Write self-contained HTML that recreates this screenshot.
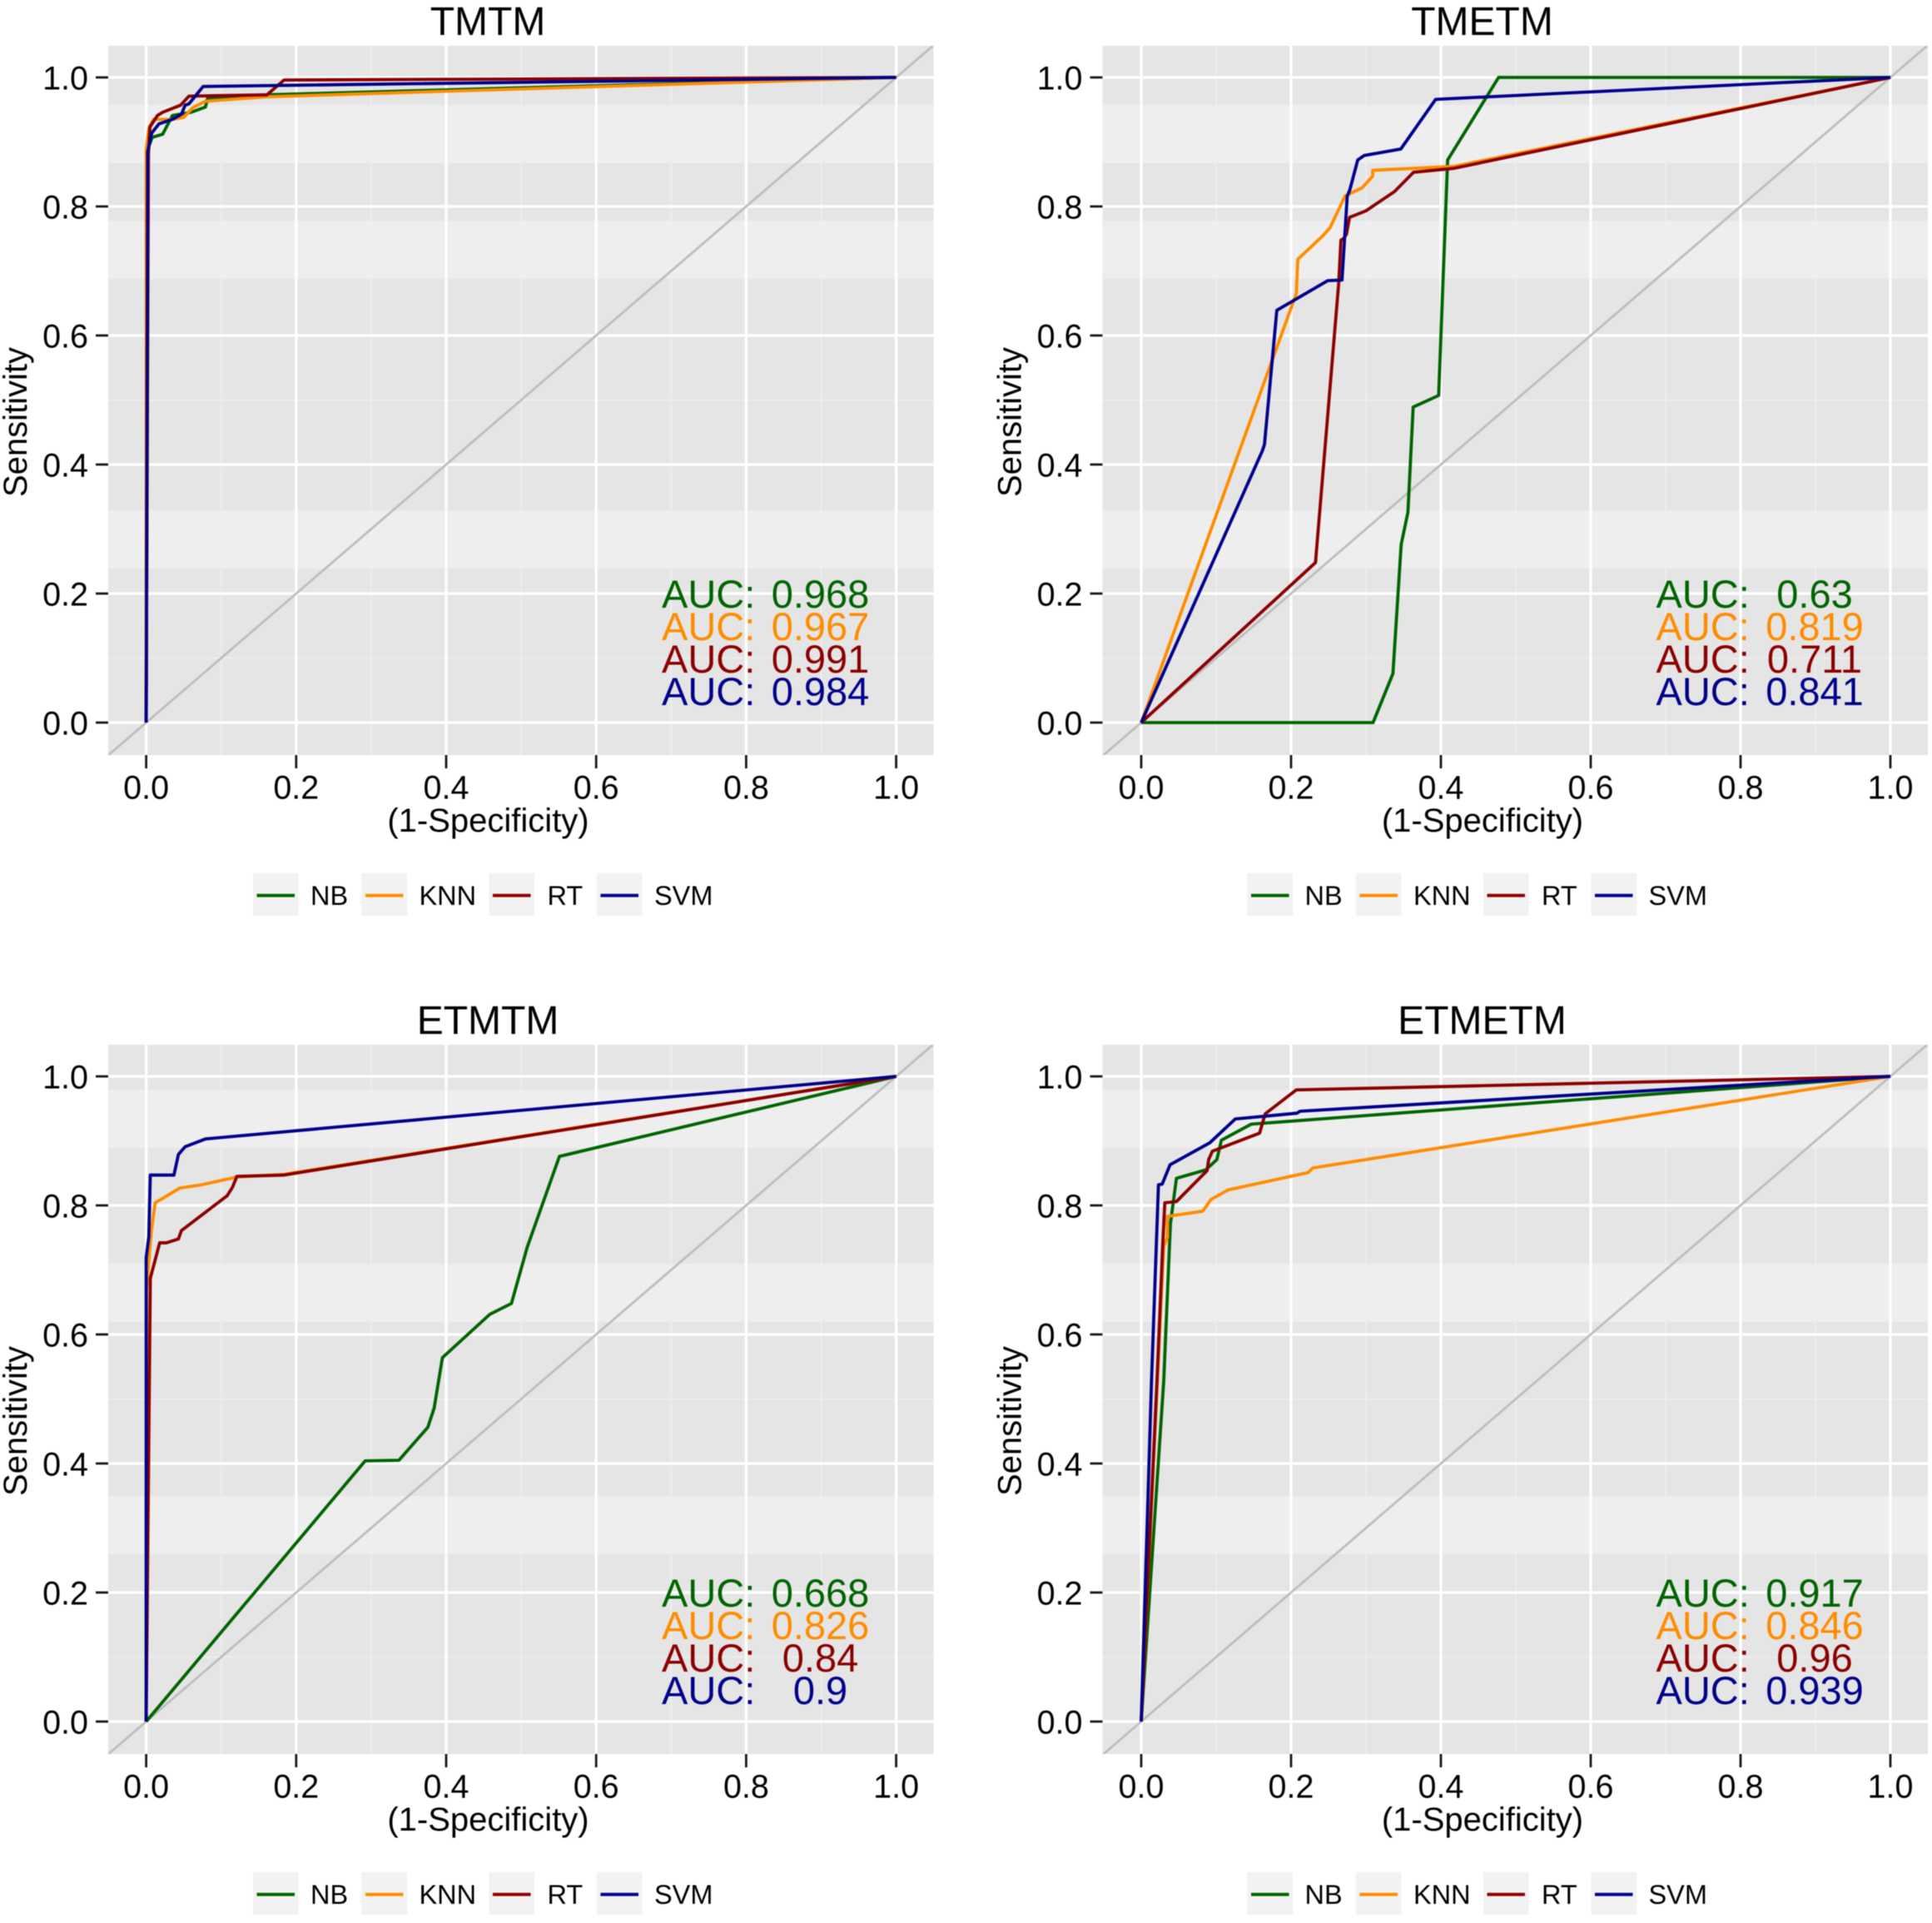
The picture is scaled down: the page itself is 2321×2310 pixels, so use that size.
<!DOCTYPE html>
<html lang="en">
<head>
<meta charset="utf-8">
<title>ROC curves: TMTM, TMETM, ETMTM, ETMETM</title>
<style>
  html, body { margin: 0; padding: 0; background: #ffffff; }
  svg { display: block; filter: blur(0.5px); }
  text { font-family: "Liberation Sans", Arial, sans-serif; }
</style>
</head>
<body>
<svg id="figure" xmlns="http://www.w3.org/2000/svg" width="2321" height="2310" viewBox="0 0 2321 2310"></svg>
<script>
// ---------- shared labels ----------
const methodNames = ['NB', 'KNN', 'RT', 'SVM'];
const methodColors = ['#006400', '#ff8c00', '#8b0000', '#00008b'];
const xTicks = [0, 0.2, 0.4, 0.6, 0.8, 1];
const yTicks = [0, 0.2, 0.4, 0.6, 0.8, 1];
const xTickLabels = ['0.0', '0.2', '0.4', '0.6', '0.8', '1.0'];
const yTickLabels = ['0.0', '0.2', '0.4', '0.6', '0.8', '1.0'];
const xMinorTicks = [0.1, 0.3, 0.5, 0.7, 0.9];
const yMinorTicks = [0.1, 0.3, 0.5, 0.7, 0.9];

// ---------- TMTM ----------
const tmtmAuc = ['0.968', '0.967', '0.991', '0.984'];
const tmtmNbX = [0, 0.0025, 0.008, 0.022, 0.035, 0.06, 0.079, 0.082, 0.161, 1];
const tmtmNbY = [0, 0.89, 0.907, 0.912, 0.941, 0.946, 0.954, 0.968, 0.973, 1];
const tmtmKnnX = [0, 0, 0.004, 0.01, 0.035, 0.05, 0.062, 0.079, 0.161, 1];
const tmtmKnnY = [0, 0.888, 0.923, 0.935, 0.935, 0.938, 0.953, 0.963, 0.97, 1];
const tmtmRtX = [0, 0.003, 0.005, 0.015, 0.022, 0.046, 0.057, 0.161, 0.184, 1];
const tmtmRtY = [0, 0.88, 0.923, 0.941, 0.946, 0.957, 0.971, 0.973, 0.996, 1];
const tmtmSvmX = [0, 0.002, 0.0075, 0.017, 0.035, 0.047, 0.052, 0.057, 0.076, 1];
const tmtmSvmY = [0, 0.885, 0.914, 0.928, 0.935, 0.943, 0.957, 0.959, 0.986, 1];

// ---------- TMETM ----------
const tmetmAuc = ['0.63', '0.819', '0.711', '0.841'];
const tmetmNbX = [0, 0.3095, 0.336, 0.347, 0.356, 0.363, 0.397, 0.409, 0.477, 1];
const tmetmNbY = [0, 0, 0.076, 0.276, 0.326, 0.489, 0.507, 0.872, 1, 1];
const tmetmKnnX = [0, 0.207, 0.209, 0.242, 0.252, 0.272, 0.295, 0.309, 0.309, 0.417, 1];
const tmetmKnnY = [0, 0.665, 0.718, 0.754, 0.767, 0.816, 0.829, 0.847, 0.856, 0.862, 1];
const tmetmRtX = [0, 0.2326, 0.2636, 0.2666, 0.27, 0.274, 0.278, 0.2997, 0.338, 0.3635, 0.417, 1];
const tmetmRtY = [0, 0.248, 0.681, 0.748, 0.75, 0.757, 0.783, 0.793, 0.823, 0.853, 0.859, 1];
const tmetmSvmX = [0, 0.1616, 0.1645, 0.181, 0.249, 0.268, 0.275, 0.2785, 0.289, 0.2976, 0.3465, 0.393, 1];
const tmetmSvmY = [0, 0.421, 0.431, 0.639, 0.685, 0.686, 0.816, 0.826, 0.872, 0.879, 0.889, 0.966, 1];

// ---------- ETMTM ----------
const etmtmAuc = ['0.668', '0.826', '0.84', '0.9'];
const etmtmNbX = [0, 0.292, 0.337, 0.3755, 0.384, 0.395, 0.458, 0.487, 0.508, 0.551, 1];
const etmtmNbY = [0, 0.404, 0.405, 0.456, 0.486, 0.564, 0.631, 0.648, 0.735, 0.876, 1];
const etmtmKnnX = [0, 0.0005, 0.0035, 0.007, 0.012, 0.045, 0.074, 0.121, 0.183, 1];
const etmtmKnnY = [0, 0.67, 0.713, 0.761, 0.804, 0.827, 0.832, 0.844, 0.848, 1];
const etmtmRtX = [0, 0.002, 0.0055, 0.018, 0.027, 0.043, 0.047, 0.108, 0.115, 0.121, 0.183, 1];
const etmtmRtY = [0, 0.254, 0.687, 0.742, 0.742, 0.748, 0.761, 0.815, 0.828, 0.845, 0.847, 1];
const etmtmSvmX = [0, 0, 0.0035, 0.0055, 0.037, 0.043, 0.052, 0.079, 1];
const etmtmSvmY = [0, 0.719, 0.751, 0.847, 0.847, 0.879, 0.891, 0.903, 1];

// ---------- ETMETM ----------
const etmetmAuc = ['0.917', '0.846', '0.96', '0.939'];
const etmetmNbX = [0, 0.03, 0.039, 0.047, 0.086, 0.101, 0.107, 0.147, 1];
const etmetmNbY = [0, 0.527, 0.772, 0.842, 0.855, 0.871, 0.901, 0.926, 1];
const etmetmKnnX = [0, 0.03, 0.035, 0.035, 0.082, 0.093, 0.116, 0.223, 0.229, 1];
const etmetmKnnY = [0, 0.736, 0.751, 0.783, 0.791, 0.809, 0.824, 0.851, 0.858, 1];
const etmetmRtX = [0, 0.021, 0.0285, 0.0315, 0.047, 0.088, 0.09, 0.095, 0.158, 0.1655, 0.207, 1];
const etmetmRtY = [0, 0.527, 0.733, 0.804, 0.806, 0.854, 0.871, 0.884, 0.912, 0.942, 0.979, 1];
const etmetmSvmX = [0, 0.0137, 0.023, 0.028, 0.0385, 0.0915, 0.1256, 0.208, 0.212, 1];
const etmetmSvmY = [0, 0.527, 0.832, 0.833, 0.863, 0.897, 0.934, 0.943, 0.946, 1];

const NS = 'http://www.w3.org/2000/svg';
const root = document.getElementById('figure');

function add(parent, tag, attrs, text) {
  const el = document.createElementNS(NS, tag);
  for (const k in attrs) el.setAttribute(k, attrs[k]);
  if (text !== undefined) el.textContent = text;
  parent.appendChild(el);
  return el;
}

function drawPanel(title, key, dx, dy, panelW, x0, xSpan, auc, seriesX, seriesY) {
  const left = 130 + dx, top = 55 + dy, bottom = 907 + dy, right = left + panelW;
  const sx = v => x0 + dx + v * xSpan;
  const sy = v => 868 + dy - v * 775;

  const g = add(root, 'g', {});
  
  

  const titleEl = add(g, 'text', { x: 586 + dx, y: 42 + dy, 'text-anchor': 'middle', 'font-size': 48, fill: '#000' }, title);
  
  

  const clip = add(g, 'clipPath', { id: 'clip-' + key });
  add(clip, 'rect', { x: left, y: top, width: panelW, height: bottom - top });

  const bg = add(g, 'rect', { x: left, y: top, width: panelW, height: bottom - top, fill: '#e5e5e5' });
  
  

  // lighter horizontal banding of the panel background
  const lightBands = dy === 0 ? [[126, 196], [265, 335], [613, 683]] : [[109, 179], [318, 388], [597, 667]];
  lightBands.forEach(b => {
    const band = add(g, 'rect', { x: left, y: b[0] + dy, width: panelW, height: b[1] - b[0], fill: '#eeeeee' });
    
    
  });

  xMinorTicks.forEach(v => {
    const l = add(g, 'line', { x1: sx(v), x2: sx(v), y1: top, y2: bottom, stroke: '#efefef', 'stroke-width': 1.6 });
    
    
  });
  yMinorTicks.forEach(v => {
    const l = add(g, 'line', { x1: left, x2: right, y1: sy(v), y2: sy(v), stroke: '#efefef', 'stroke-width': 1.6 });
    
    
  });
  xTicks.forEach(v => {
    const l = add(g, 'line', { x1: sx(v), x2: sx(v), y1: top, y2: bottom, stroke: '#ffffff', 'stroke-width': 3.2 });
    
    
  });
  yTicks.forEach(v => {
    const l = add(g, 'line', { x1: left, x2: right, y1: sy(v), y2: sy(v), stroke: '#ffffff', 'stroke-width': 3.2 });
    
    
  });

  const marks = add(g, 'g', { 'clip-path': 'url(#clip-' + key + ')' });
  
  

  const diag = add(marks, 'line', { x1: sx(-0.1), y1: sy(-0.1), x2: sx(1.1), y2: sy(1.1), stroke: '#bebebe', 'stroke-width': 2.8 });
  
  

  methodNames.forEach((m, i) => {
    const pts = seriesX[i].map((x, j) => sx(x).toFixed(2) + ',' + sy(seriesY[i][j]).toFixed(2)).join(' ');
    const line = add(marks, 'polyline', { points: pts, fill: 'none', stroke: methodColors[i], 'stroke-width': 3.8, 'stroke-linejoin': 'round' });
    
    
  });

  methodNames.forEach((m, i) => {
    const by = sy(0) - 138 + i * 39;
    const lab = add(g, 'text', { x: 795 + dx, y: by, 'font-size': 47, fill: methodColors[i] }, 'AUC:');
    
    
    const val = add(g, 'text', { x: 985.5 + dx, y: by, 'text-anchor': 'middle', 'font-size': 47, fill: methodColors[i] }, auc[i]);
    
    
  });

  xTicks.forEach((v, i) => {
    const t = add(g, 'line', { x1: sx(v), x2: sx(v), y1: bottom, y2: bottom + 16, stroke: '#1a1a1a', 'stroke-width': 2.8 });
    
    
    const l = add(g, 'text', { x: sx(v), y: bottom + 52.5, 'text-anchor': 'middle', 'font-size': 39.5, fill: '#000' }, xTickLabels[i]);
    
    
  });
  yTicks.forEach((v, i) => {
    const t = add(g, 'line', { x1: left - 15, x2: left, y1: sy(v), y2: sy(v), stroke: '#1a1a1a', 'stroke-width': 2.8 });
    
    
    const l = add(g, 'text', { x: left - 24, y: sy(v) + 14.5, 'text-anchor': 'end', 'font-size': 39.5, fill: '#000' }, yTickLabels[i]);
    
    
  });

  const xt = add(g, 'text', { x: 586.5 + dx, y: 999 + dy, 'text-anchor': 'middle', 'font-size': 40, fill: '#000' }, '(1-Specificity)');
  
  

  const yt = add(g, 'text', { transform: 'translate(' + (32 + dx) + ' ' + (507 + dy) + ') rotate(-90)', 'text-anchor': 'middle', 'font-size': 40, fill: '#000' }, 'Sensitivity');
  
  

  const keyLeft = [304, 434.5, 587.5, 717];
  const labelLeft = [373, 503.5, 657.5, 786];
  methodNames.forEach((m, i) => {
    const entry = add(g, 'g', {});
    
    
    add(entry, 'rect', { x: keyLeft[i] + dx, y: 1049 + dy, width: 54.5, height: 51, fill: '#f2f2f2' });
    add(entry, 'line', { x1: keyLeft[i] + 4.5 + dx, x2: keyLeft[i] + 50 + dx, y1: 1075.7 + dy, y2: 1075.7 + dy, stroke: methodColors[i], 'stroke-width': 3.8 });
    add(entry, 'text', { x: labelLeft[i] + dx, y: 1087 + dy, 'font-size': 32.5, fill: '#000' }, m);
  });
}

drawPanel('TMTM', 'tmtm', 0, 0, 991.5, 175.6, 901, tmtmAuc,
  [tmtmNbX, tmtmKnnX, tmtmRtX, tmtmSvmX], [tmtmNbY, tmtmKnnY, tmtmRtY, tmtmSvmY]);
drawPanel('TMETM', 'tmetm', 1194.5, 0, 991.5, 176.5, 900, tmetmAuc,
  [tmetmNbX, tmetmKnnX, tmetmRtX, tmetmSvmX], [tmetmNbY, tmetmKnnY, tmetmRtY, tmetmSvmY]);
drawPanel('ETMTM', 'etmtm', 0, 1200, 991.5, 175.6, 901, etmtmAuc,
  [etmtmNbX, etmtmKnnX, etmtmRtX, etmtmSvmX], [etmtmNbY, etmtmKnnY, etmtmRtY, etmtmSvmY]);
drawPanel('ETMETM', 'etmetm', 1194.5, 1200, 991.5, 176.5, 900, etmetmAuc,
  [etmetmNbX, etmetmKnnX, etmetmRtX, etmetmSvmX], [etmetmNbY, etmetmKnnY, etmetmRtY, etmetmSvmY]);
</script>
</body>
</html>
